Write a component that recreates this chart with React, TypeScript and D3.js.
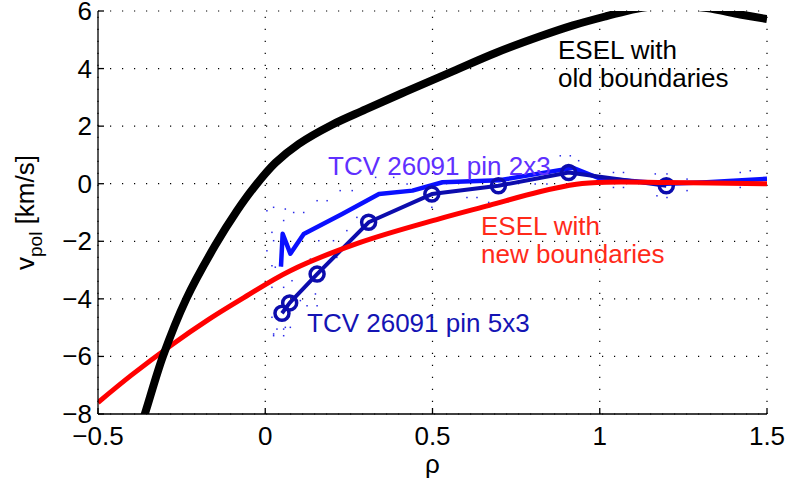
import React from "react";
import * as d3 from "d3";

const W = 786;
const H = 483;

const xTicks = [-0.5, 0, 0.5, 1, 1.5];
const xTickLabels = ["\u22120.5", "0", "0.5", "1", "1.5"];
const yTicks = [-8, -6, -4, -2, 0, 2, 4, 6];
const yTickLabels = ["\u22128", "\u22126", "\u22124", "\u22122", "0", "2", "4", "6"];

// ESEL with old boundaries (rho, v_pol)
const eselOld: [number, number][] = [
  [-0.375, -8.5], [-0.36, -8.0], [-0.306, -6.0], [-0.236, -4.0], [-0.15, -2.15],
  [-0.085, -0.95], [-0.035, -0.15], [0.03, 0.72], [0.1, 1.38], [0.2, 2.05],
  [0.3, 2.58], [0.42, 3.2], [0.55, 3.85], [0.69, 4.55], [0.822, 5.12],
  [0.92, 5.5], [1.02, 5.82], [1.11, 6.08], [1.21, 6.2], [1.32, 6.1],
  [1.42, 5.88], [1.5, 5.72],
];

// ESEL with new boundaries
const eselNew: [number, number][] = [
  [-0.5, -7.6], [-0.4, -6.65], [-0.28, -5.6], [-0.17, -4.72], [-0.07, -4.0],
  [0.075, -3.02], [0.284, -2.04], [0.52, -1.22], [0.67, -0.75], [0.82, -0.28],
  [0.93, -0.02], [1.02, 0.05], [1.2, 0.04], [1.5, 0.0],
];

// TCV 26091 pin 2x3
const pin2x3: [number, number][] = [
  [0.047, -2.88], [0.052, -1.74], [0.075, -2.43], [0.115, -1.75], [0.23, -1.05],
  [0.34, -0.36], [0.44, -0.24], [0.53, 0.05], [0.7, 0.12], [0.92, 0.55],
  [1.0, 0.18], [1.2, 0.0], [1.32, 0.05], [1.5, 0.17],
];

// TCV 26091 pin 5x3
const pin5x3: [number, number][] = [
  [0.05, -4.5], [0.073, -4.14], [0.155, -3.14], [0.309, -1.34], [0.498, -0.36],
  [0.697, -0.07], [0.907, 0.39], [1.199, -0.07],
];

// scattered individual samples
const samples: [number, number][] = [
  [0.025, -0.82], [0.06, -0.88], [0.085, -1.0], [0.115, -1.0], [0.005, -0.94],
  [0.055, -1.28], [0.02, -1.69], [0.025, -1.98], [0.005, -2.33], [0.03, -2.9],
  [0.02, -3.6], [0.055, -3.6], [0.08, -3.37], [0.135, -2.62], [0.16, -1.98],
  [0.185, -0.59], [0.155, -0.59], [0.224, -0.24], [0.26, -0.24], [0.33, 0.22],
  [0.384, 0.22], [0.424, -0.01], [0.498, -0.82], [0.214, -2.56], [0.204, -1.98],
  [0.15, -3.83], [0.105, -4.06], [0.025, -5.22], [0.06, -4.99], [0.244, -1.63],
  [0.274, -1.17], [0.882, 0.97], [0.912, 0.97], [0.937, 0.8], [1.041, 0.39],
  [1.071, 0.39], [1.041, -0.13], [1.071, -0.13], [1.166, 0.34], [1.201, 0.34],
  [1.261, 0.16], [1.261, -0.24], [1.171, -0.42], [1.201, -0.48], [1.42, 0.39],
  [1.45, 0.45], [1.42, -0.13], [0.603, -0.48], [0.633, -0.48], [0.668, -0.65],
  [0.807, -0.01], [0.842, -0.01], [0.125, -4.24], [0.155, -4.24], [0.035, -5.05],
  [0.055, -5.05], [0.025, -5.28], [0.055, -5.28], [0.02, -2.85], [0.05, -2.85],
  [0.02, -4.64], [0.075, -4.99],
];

const left = 98;
const right = 767;
const top = 11;
const bottom = 414;

const FONT = "'Liberation Sans', Arial, Helvetica, sans-serif";

export default function App() {
  const x = d3.scaleLinear().domain([-0.5, 1.5]).range([left, right]);
  const y = d3.scaleLinear().domain([-8, 6]).range([bottom, top]);

  const smooth = d3
    .line<[number, number]>()
    .x((d) => x(d[0]))
    .y((d) => y(d[1]))
    .curve(d3.curveCatmullRom.alpha(0.5));
  const straight = d3
    .line<[number, number]>()
    .x((d) => x(d[0]))
    .y((d) => y(d[1]));

  const fs = 26;

  return (
    <div style={{ position: "fixed", left: 0, top: 0 }}>
      <svg width={W} height={H} style={{ display: "block", background: "#fff" }} fontFamily={FONT}>
        <defs>
          <clipPath id="plotclip">
            <rect x={left} y={top} width={right - left} height={bottom - top} />
          </clipPath>
        </defs>
        {/* grid */}
        <g stroke="#000" strokeWidth={1.2} strokeDasharray="1.2 10.8">
          {xTicks.map((t) => (
            <line key={"gx" + t} x1={x(t)} x2={x(t)} y1={bottom} y2={top} />
          ))}
          {yTicks.map((t) => (
            <line key={"gy" + t} x1={left} x2={right} y1={y(t)} y2={y(t)} />
          ))}
        </g>
        <g clipPath="url(#plotclip)">
          {/* samples */}
          <g fill="#2a2ae8">
            {samples.map((d, i) => (
              <rect key={i} x={x(d[0]) - 0.75} y={y(d[1]) - 0.75} width={1.5} height={1.5} />
            ))}
          </g>
          <path d={straight(pin2x3) ?? ""} fill="none" stroke="#0a10ff" strokeWidth={4.5} strokeLinejoin="round" />
          <path d={straight(pin5x3) ?? ""} fill="none" stroke="#0c0cad" strokeWidth={4} strokeLinejoin="round" />
          {pin5x3.map((d, i) => (
            <circle key={i} cx={x(d[0])} cy={y(d[1])} r={7} fill="none" stroke="#0c0cad" strokeWidth={3.5} />
          ))}
          <path d={smooth(eselNew) ?? ""} fill="none" stroke="#ff0000" strokeWidth={5} />
          <path d={smooth(eselOld) ?? ""} fill="none" stroke="#000" strokeWidth={8} />
        </g>
        {/* axes */}
        <g stroke="#000" strokeWidth={1.3}>
          <line x1={left} x2={left} y1={top} y2={bottom} />
          <line x1={left} x2={right} y1={bottom} y2={bottom} />
          {xTicks.map((t) => (
            <line key={"tx" + t} x1={x(t)} x2={x(t)} y1={bottom} y2={bottom - 6} />
          ))}
          {yTicks.map((t) => (
            <line key={"ty" + t} x1={left} x2={left + 6} y1={y(t)} y2={y(t)} />
          ))}
        </g>
        <g fontSize={fs} fill="#000">
          {xTicks.map((t, i) => (
            <text key={"lx" + t} x={x(t)} y={bottom + 31} textAnchor="middle">
              {xTickLabels[i]}
            </text>
          ))}
          {yTicks.map((t, i) => (
            <text key={"ly" + t} x={left - 6} y={y(t) + 9} textAnchor="end">
              {yTickLabels[i]}
            </text>
          ))}
          <text x={(left + right) / 2} y={473} textAnchor="middle">ρ</text>
          <text transform={`translate(34, ${(top + bottom) / 2}) rotate(-90)`} textAnchor="middle">
            <tspan>v</tspan>
            <tspan fontSize={19} dy={8}>pol</tspan>
            <tspan dy={-8}> [km/s]</tspan>
          </text>
        </g>
        {/* annotations */}
        <g fontSize={fs}>
          <text x={558} y={59} fill="#000">ESEL with</text>
          <text x={558} y={87} fill="#000">old boundaries</text>
          <text x={481} y={235} fill="#ff2a1a">ESEL with</text>
          <text x={481} y={263} fill="#ff2a1a">new boundaries</text>
          <text x={328} y={175} fill="#6030ff">TCV 26091 pin 2x3</text>
          <text x={307} y={332} fill="#1414b4">TCV 26091 pin 5x3</text>
        </g>
      </svg>
    </div>
  );
}
